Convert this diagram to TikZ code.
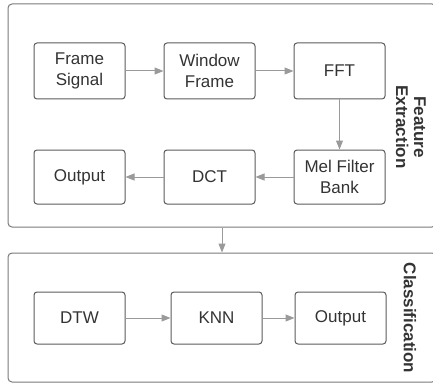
\documentclass[tikz,border=0pt]{standalone}
\usepackage{fontspec}
\setmainfont{Liberation Sans}
\usetikzlibrary{arrows.meta, positioning}
\definecolor{boxline}{HTML}{5A5A5A}
\definecolor{flowline}{HTML}{9A9A9A}
\definecolor{groupline}{HTML}{7A7A7A}
\definecolor{textcol}{HTML}{333333}
\tikzset{
    block/.style={draw=boxline, line width=1pt, rounded corners=3pt, minimum width=91pt,
      minimum height=56pt, align=center, text=textcol, inner sep=2pt,
      font=\fontsize{17}{21}\selectfont},
    group/.style={draw=groupline, line width=1pt, rounded corners=4pt},
    flow/.style={draw=flowline, line width=1pt, -{Triangle[length=9pt, width=7pt]}},
    grouplabel/.style={rotate=-90, align=center, text=textcol,
      font=\bfseries\fontsize{17}{18}\selectfont},
}

\begin{document}
\begin{tikzpicture}[x=1pt, y=-1pt, node distance=38pt]
    \useasboundingbox (0,0) rectangle (433,385);

    % the two stages
    \node[group, minimum width=428pt, minimum height=223pt] (feat) at (222,115.5) {};
    \node[group, minimum width=428pt, minimum height=129pt] (class) at (222,317.5) {};
    \node[grouplabel] (featlabel) at (411,127) {Feature\\Extraction};
    \node[grouplabel] (classlabel) at (410,318) {Classification};

    \node[block] (frame) at (79.5,71) {Frame\\Signal};
    \node[block, right=of frame] (window) {Window\\Frame};
    \node[block, right=of window] (fft) {FFT};
    \node[block, below=50pt of fft, minimum height=54pt] (mel) {Mel Filter\\Bank};
    \node[block, left=of mel, minimum height=54pt] (dct) {DCT};
    \node[block, left=of dct, minimum height=54pt] (out1) {Output};

    \node[block, minimum height=52pt] (dtw) at (79.5,318) {DTW};
    \node[block, right=45pt of dtw, minimum height=52pt] (knn) {KNN};
    \node[block, right=32pt of knn, minimum height=52pt] (out2) {Output};

    \draw[flow] (frame) -- (window);
    \draw[flow] (window) -- (fft);
    \draw[flow] (fft) -- (mel);
    \draw[flow] (mel) -- (dct);
    \draw[flow] (dct) -- (out1);
    \draw[flow] (feat) -- (class);
    \draw[flow] (dtw) -- (knn);
    \draw[flow] (knn) -- (out2);
\end{tikzpicture}
\end{document}
